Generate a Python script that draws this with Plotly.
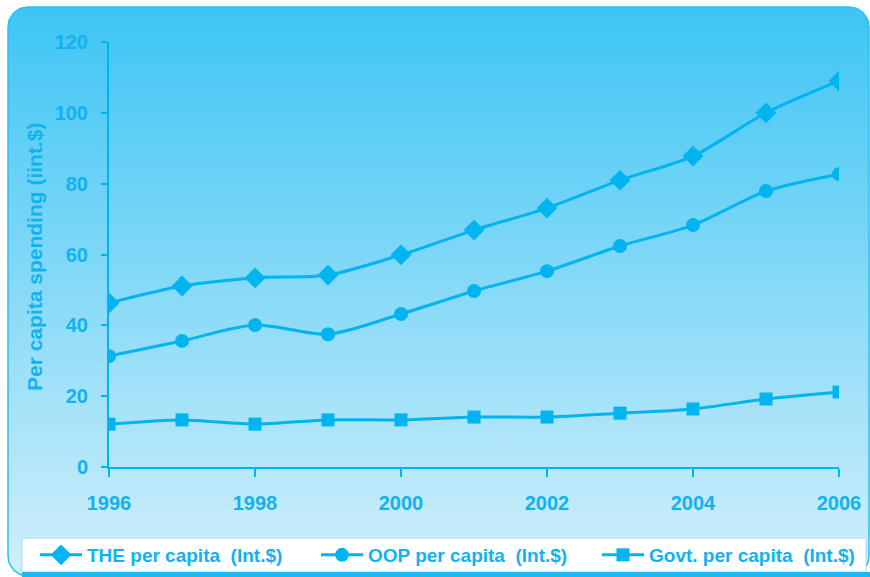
import numpy as np
import plotly.graph_objects as go

# Per capita health spending, 1996-2006 (Int.$)
years = [1996, 1997, 1998, 1999, 2000, 2001, 2002, 2003, 2004, 2005, 2006]
the_per_capita = [46.3, 51.1, 53.4, 54.2, 59.9, 66.9, 73.1, 81.0, 87.8, 100.0, 109.0]
oop_per_capita = [31.3, 35.6, 40.1, 37.5, 43.2, 49.7, 55.3, 62.4, 68.3, 77.9, 82.7]
govt_per_capita = [12.1, 13.3, 12.1, 13.3, 13.3, 14.1, 14.1, 15.2, 16.4, 19.2, 21.2]

series_names = ["THE per capita\u00a0 (Int.$)", "OOP per capita\u00a0 (Int.$)", "Govt. per capita\u00a0 (Int.$)"]
series_symbols = ["diamond", "circle", "square"]
series_sizes = [16, 14, 13]

W, H = 870, 577
CYAN = "#00b4f0"
TEXT = "#12b2ee"
FONT = "Liberation Sans, Arial, sans-serif"


def rounded_rect(x0, y0, x1, y1, r, n=16):
    """Outline of a rounded rectangle in pixel space (y grows downward)."""
    xs, ys = [], []
    corners = [
        (x1 - r, y0 + r, -90, 0),
        (x1 - r, y1 - r, 0, 90),
        (x0 + r, y1 - r, 90, 180),
        (x0 + r, y0 + r, 180, 270),
    ]
    for cx, cy, a0, a1 in corners:
        t = np.radians(np.linspace(a0, a1, n))
        xs.extend(cx + r * np.cos(t))
        ys.extend(cy + r * np.sin(t))
    xs.append(xs[0])
    ys.append(ys[0])
    return xs, ys


fig = go.Figure()

# Gradient panel behind the chart (pixel-space axes)
px, py = rounded_rect(8, 7, 869, 576, 20)
fig.add_trace(go.Scatter(
    x=px, y=py, mode="lines", fill="toself",
    line=dict(color="#2bbef1", width=1.5),
    fillgradient=dict(type="vertical", start=576, stop=7,
                      colorscale=[[0, "#d2effb"], [1, "#3dc5f4"]]),
    hoverinfo="skip", showlegend=False, xaxis="x", yaxis="y",
))

for name, vals, sym, size in zip(series_names,
                                 [the_per_capita, oop_per_capita, govt_per_capita],
                                 series_symbols, series_sizes):
    fig.add_trace(go.Scatter(
        x=years, y=vals, name=name, mode="lines+markers",
        line=dict(color=CYAN, width=3, shape="spline", smoothing=0.8),
        marker=dict(symbol=sym, size=size, color=CYAN),
        xaxis="x2", yaxis="y2",
    ))

fig.update_layout(
    width=W, height=H,
    margin=dict(l=0, r=0, t=0, b=0, autoexpand=False),
    paper_bgcolor="white", plot_bgcolor="rgba(0,0,0,0)",
    font=dict(family=FONT, color=TEXT, size=18, weight="bold"),
    xaxis=dict(domain=[0, 1], range=[0, W], visible=False, fixedrange=True),
    yaxis=dict(domain=[0, 1], range=[H, 0], visible=False, fixedrange=True),
    xaxis2=dict(
        domain=[109 / W, 839 / W], range=[1996, 2006], anchor="y2",
        tickvals=[1996, 1998, 2000, 2002, 2004, 2006],
        ticks="outside", ticklen=8, tickwidth=2, tickcolor=CYAN,
        showline=True, linecolor=CYAN, linewidth=2, showgrid=False, zeroline=False,
        tickfont=dict(size=20, color=TEXT, family=FONT, weight="bold"),
        ticklabelstandoff=9,
    ),
    yaxis2=dict(
        domain=[(H - 467) / H, (H - 42) / H], range=[0, 120], anchor="x2",
        tickvals=[0, 20, 40, 60, 80, 100, 120],
        ticks="outside", ticklen=6, tickwidth=2, tickcolor=CYAN,
        showline=True, linecolor=CYAN, linewidth=2, showgrid=False, zeroline=False,
        tickfont=dict(size=20, color=TEXT, family=FONT, weight="bold"),
        ticklabelstandoff=9,
    ),
    showlegend=True,
    legend=dict(
        orientation="h", x=35 / W, y=(H - 555) / H, xanchor="left", yanchor="middle",
        bgcolor="rgba(0,0,0,0)", itemwidth=42, entrywidth=224,
        font=dict(size=19, color=TEXT, family=FONT, weight="bold"),
        traceorder="normal",
    ),
    shapes=[
        dict(type="rect", xref="x", yref="y", x0=22, x1=866, y0=538, y1=572,
             fillcolor="white", line=dict(color="#a6def4", width=1), layer="above"),
        dict(type="line", xref="x", yref="y", x0=22, x1=870, y0=574.5, y1=574.5,
             line=dict(color="#1cb8f0", width=5), layer="above"),
    ],
    annotations=[
        dict(xref="x", yref="y", x=34, y=257, text="Per capita spending (iint.$)",
             textangle=-90, showarrow=False,
             font=dict(size=21, color=TEXT, family=FONT, weight="bold")),
    ],
)

fig.write_html("out.html")
